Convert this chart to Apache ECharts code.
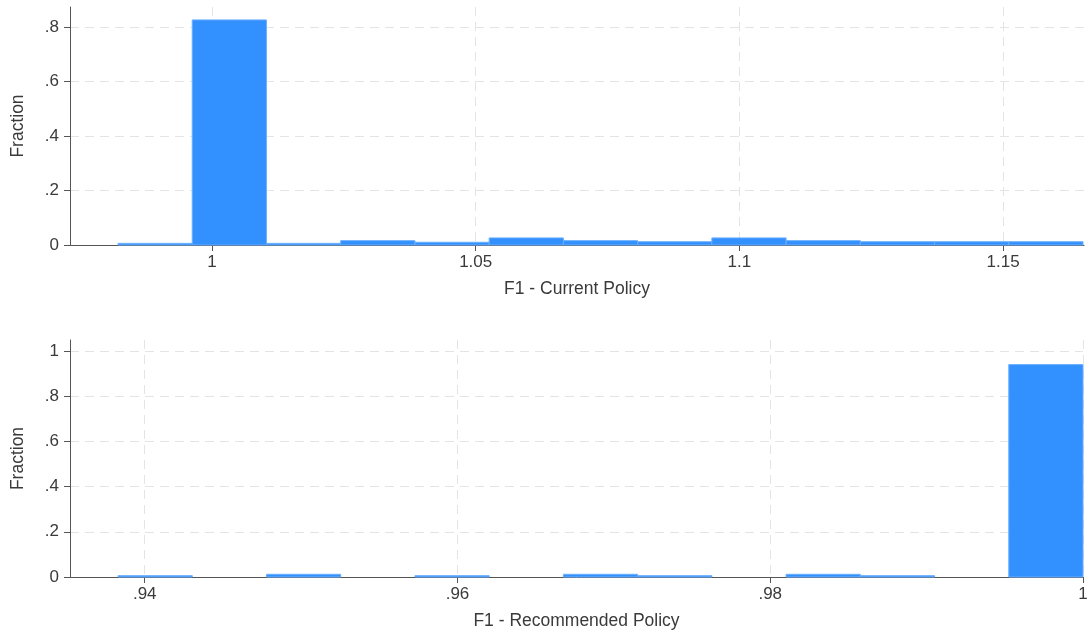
<!DOCTYPE html>
<html>
<head>
<meta charset="utf-8">
<script src="https://cdn.jsdelivr.net/npm/echarts@6/dist/echarts.min.js"></script>
<style>
  html, body { margin: 0; padding: 0; background: #ffffff; }
  #chart { width: 1091px; height: 631px; }
</style>
</head>
<body>
<div id="chart"></div>
<script>
// Histogram of F1 under the current policy (fraction per bin)
const currentBinStart = 0.98218;
const currentBinWidth = 0.014075;
const currentFraction = [0.006, 0.826, 0.006, 0.016, 0.010, 0.026, 0.016, 0.012, 0.026, 0.016, 0.012, 0.012, 0.012];

// Histogram of F1 under the recommended policy (fraction per bin)
const recommendedBinStart = 0.938293;
const recommendedBinWidth = 0.0047467;
const recommendedFraction = [0.006, 0, 0.012, 0, 0.006, 0, 0.012, 0.006, 0, 0.012, 0.006, 0, 0.940];

// Axis ticks
const currentTicks = [1, 1.05, 1.1, 1.15];
const recommendedTicks = [0.94, 0.96, 0.98, 1];
const fractionTicksTop = [0, 0.2, 0.4, 0.6, 0.8];
const fractionTicksBottom = [0, 0.2, 0.4, 0.6, 0.8, 1];

const titles = ['F1 - Current Policy', 'F1 - Recommended Policy'];

function binData(start, width, values) {
  return values.map((v, i) => [start + i * width, start + (i + 1) * width, v]);
}

// Stata-style number labels: drop the leading zero
function stataNum(v) {
  const s = String(+Number(v).toFixed(3));
  return s.replace(/^0\./, '.');
}

const FONT = '"Liberation Sans", Arial, Helvetica, sans-serif';
const TEXT = '#3a3a3a';
const AXIS = '#555555';
const GRID = '#e4e4e4';
const BAR = '#3390ff';
const BAR_EDGE = '#6aafff';

function xAxis(gridIndex, min, max, ticks, name) {
  return {
    type: 'value', gridIndex, min, max,
    name, nameLocation: 'middle', nameGap: 35,
    nameTextStyle: { fontFamily: FONT, fontSize: 17.5, color: TEXT },
    axisLine: { show: true, onZero: false, lineStyle: { color: AXIS, width: 1 } },
    axisTick: { show: true, length: 6, customValues: ticks, lineStyle: { color: AXIS } },
    axisLabel: { customValues: ticks, margin: 9, fontFamily: FONT, fontSize: 17, color: TEXT, formatter: stataNum },
    splitLine: { show: true, lineStyle: { color: GRID, type: [9, 6], width: 1 } }
  };
}

function yAxis(gridIndex, max, ticks) {
  return {
    type: 'value', gridIndex, min: 0, max,
    name: 'Fraction', nameLocation: 'middle', nameGap: 43, nameRotate: 90,
    nameTextStyle: { fontFamily: FONT, fontSize: 17.5, color: TEXT },
    axisLine: { show: true, lineStyle: { color: AXIS, width: 1 } },
    axisTick: { show: true, length: 6, customValues: ticks, lineStyle: { color: AXIS } },
    axisLabel: { customValues: ticks, margin: 11, fontFamily: FONT, fontSize: 17, color: TEXT, formatter: stataNum },
    splitLine: { show: true, lineStyle: { color: GRID, type: [9, 6], width: 1 } }
  };
}

function histSeries(idx, data) {
  return {
    type: 'custom',
    xAxisIndex: idx, yAxisIndex: idx,
    data,
    encode: { x: [0, 1], y: 2 },
    renderItem: function (params, api) {
      if (!(api.value(2) > 0)) return null; // empty bins draw nothing
      const p0 = api.coord([api.value(0), api.value(2)]);
      const p1 = api.coord([api.value(1), 0]);
      return {
        type: 'rect',
        shape: { x: p0[0], y: p0[1], width: p1[0] - p0[0], height: p1[1] - p0[1] },
        style: { fill: BAR, stroke: BAR_EDGE, lineWidth: 1 }
      };
    }
  };
}

const chart = echarts.init(document.getElementById('chart'), null, { renderer: 'canvas' });
chart.setOption({
  animation: false,
  backgroundColor: '#ffffff',
  grid: [
    { left: 70, top: 7, width: 1014, height: 238 },
    { left: 70, top: 340, width: 1013, height: 237 }
  ],
  xAxis: [
    xAxis(0, 0.97308, 1.16534, currentTicks, titles[0]),
    xAxis(1, 0.93522, 1.0, recommendedTicks, titles[1])
  ],
  yAxis: [
    yAxis(0, 0.8734, fractionTicksTop),
    yAxis(1, 1.0487, fractionTicksBottom)
  ],
  series: [
    histSeries(0, binData(currentBinStart, currentBinWidth, currentFraction)),
    histSeries(1, binData(recommendedBinStart, recommendedBinWidth, recommendedFraction))
  ]
});
</script>
</body>
</html>
